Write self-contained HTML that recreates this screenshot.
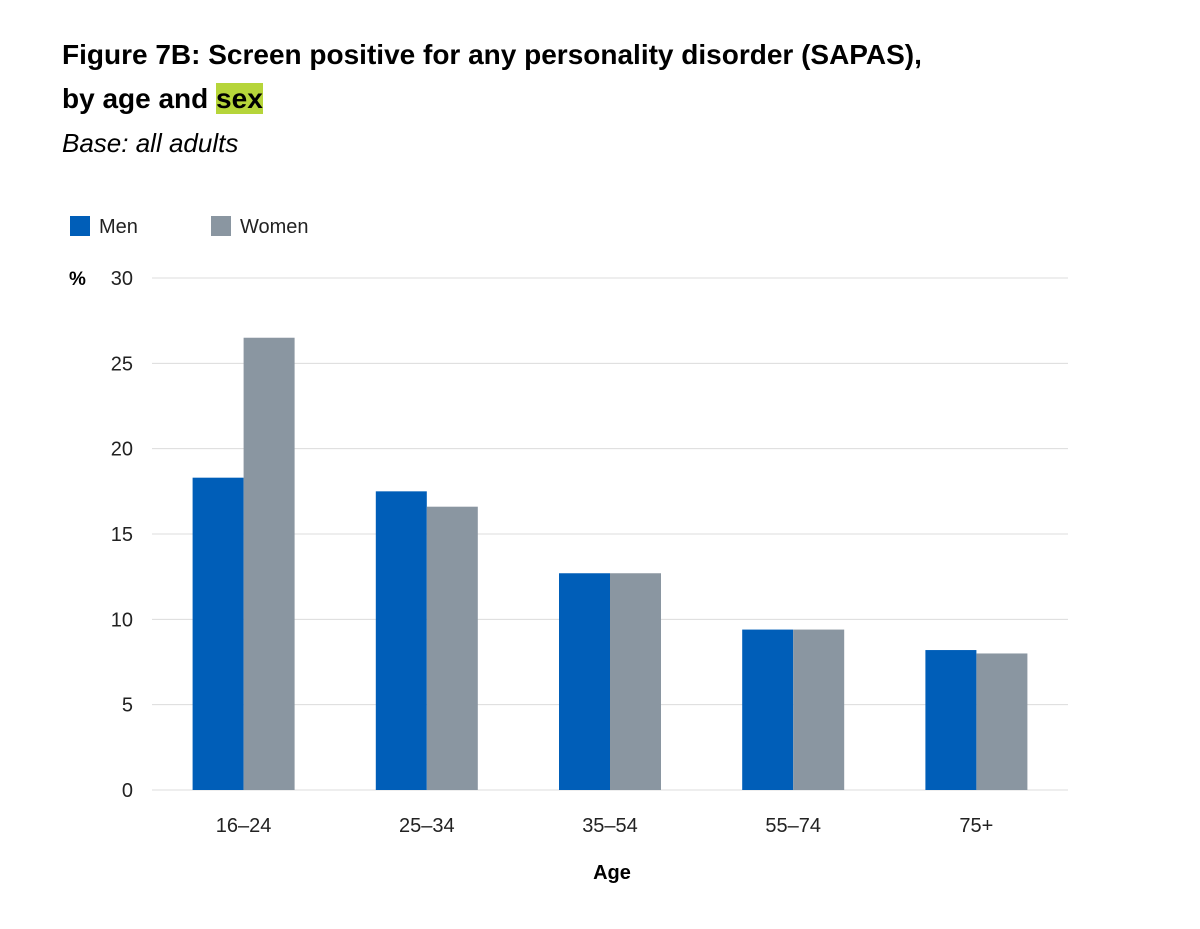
<!DOCTYPE html>
<html><head><meta charset="utf-8"><style>
body{margin:0;background:#fff;font-family:"Liberation Sans",sans-serif;}
#c{position:relative;width:1200px;height:929px;overflow:hidden}
.t{position:absolute;left:62px;font-size:28px;font-weight:bold;color:#000}
.hl{background:#b6d53a}
</style></head><body><div id="c">
<div class="t" style="top:39px">Figure 7B: Screen positive for any personality disorder (SAPAS),</div>
<div class="t" style="top:83px">by age and <span class="hl">sex</span></div>
<div style="position:absolute;left:62px;top:128px;font-size:26px;font-style:italic">Base: all adults</div>
<svg id="s" width="1200" height="929" style="position:absolute;left:0;top:0"></svg>
</div>
<script>
const categories=["16–24","25–34","35–54","55–74","75+"];
const men=[18.3,17.5,12.7,9.4,8.2];
const women=[26.5,16.6,12.7,9.4,8.0];
const yTicks=[0,5,10,15,20,25,30];
const NS="http://www.w3.org/2000/svg";
const svg=document.getElementById('s');
const x0=152,x1=1068,yb=790,yt=278,ymax=30;
const y=v=>yb-(v/ymax)*(yb-yt);
const gw=(x1-x0)/categories.length;
function mk(tag,attrs,txt){const e=document.createElementNS(NS,tag);for(const k in attrs)e.setAttribute(k,attrs[k]);if(txt!==undefined)e.textContent=txt;svg.appendChild(e);return e;}
yTicks.forEach(t=>{
 const l=mk('line',{x1:x0,x2:x1,y1:y(t),y2:y(t),stroke:'#dcdcdc','stroke-width':1});
 
 
 const tx=mk('text',{x:133,y:y(t)+7,'text-anchor':'end','font-size':20,fill:'#222','font-family':'Liberation Sans, sans-serif'},t);
 
 
});
const pc=mk('text',{x:69,y:y(30)+7,'font-size':19,'font-weight':'bold',fill:'#000','font-family':'Liberation Sans, sans-serif'},'%');


categories.forEach((c,i)=>{
 const cx=x0+gw*(i+0.5),bw=51;
 const a=mk('rect',{x:cx-bw,y:y(men[i]),width:bw,height:yb-y(men[i]),fill:'#005eb8'});
 
 
 const b=mk('rect',{x:cx,y:y(women[i]),width:bw,height:yb-y(women[i]),fill:'#8a96a1'});
 
 
 const tx=mk('text',{x:cx,y:832,'text-anchor':'middle','font-size':20,fill:'#222','font-family':'Liberation Sans, sans-serif'},c);
 
 
});
const ax=mk('text',{x:612,y:879,'text-anchor':'middle','font-size':20,'font-weight':'bold',fill:'#000','font-family':'Liberation Sans, sans-serif'},'Age');


[['Men','#005eb8',70,99],['Women','#8a96a1',211,240]].forEach(([n,col,sx,tx])=>{
 const r=mk('rect',{x:sx,y:216,width:20,height:20,fill:col});
 
 
 const t=mk('text',{x:tx,y:233,'font-size':20,fill:'#222','font-family':'Liberation Sans, sans-serif'},n);
 
 
});
</script></body></html>
